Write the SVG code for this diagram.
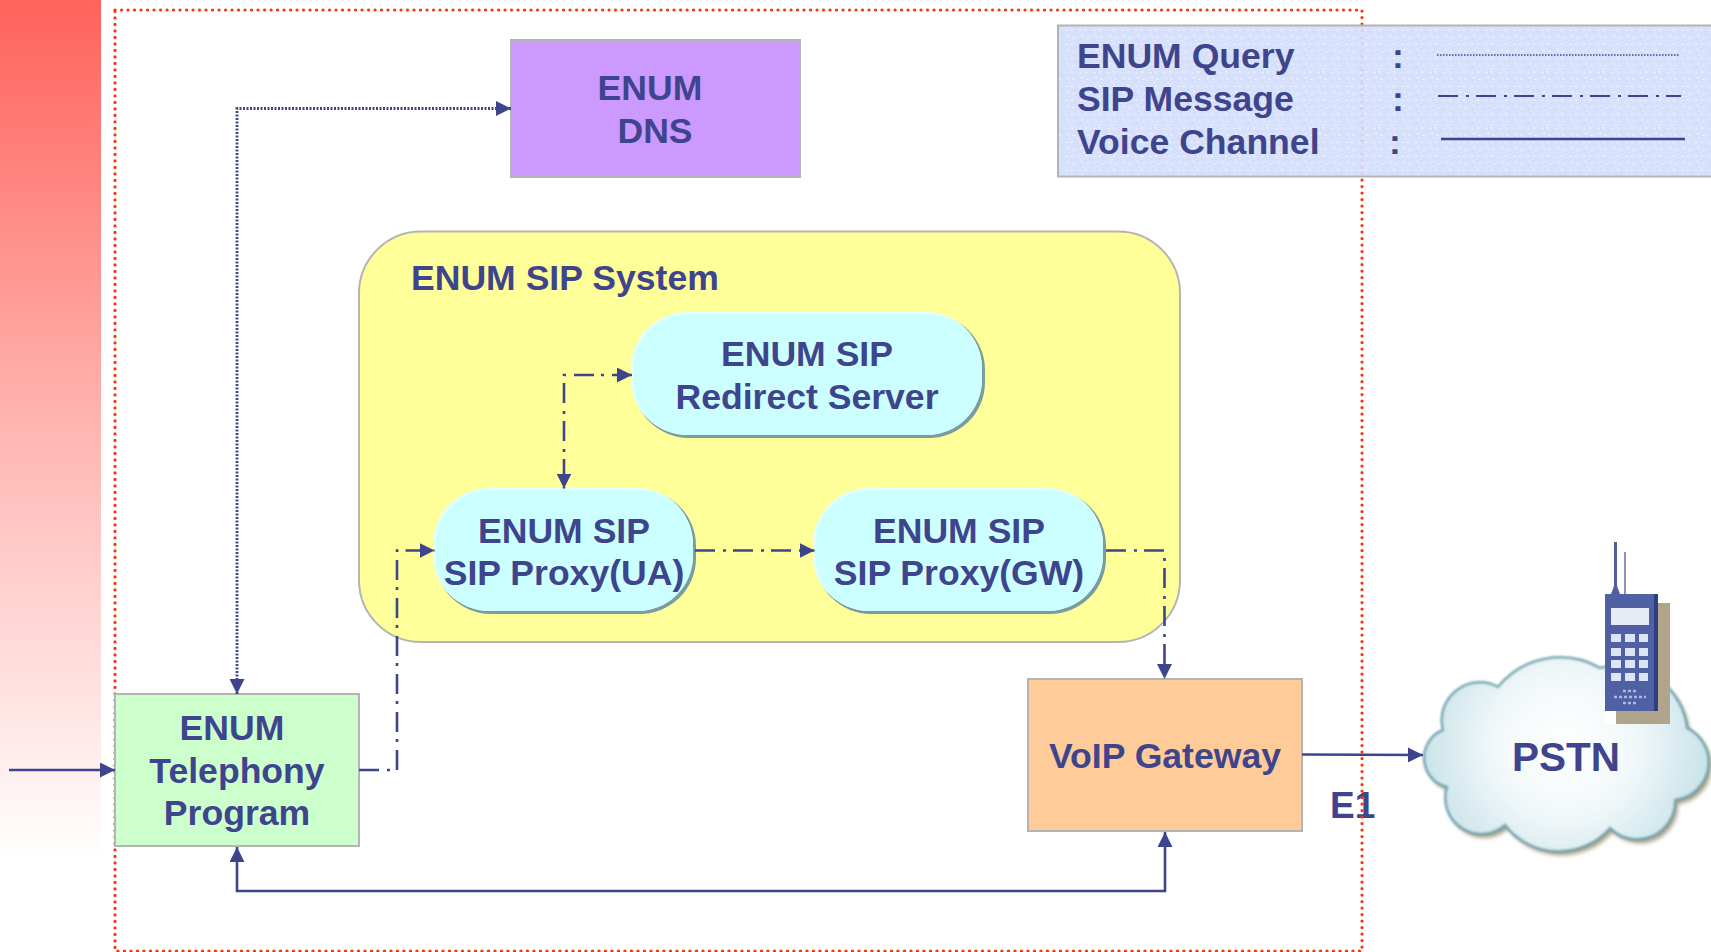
<svg xmlns="http://www.w3.org/2000/svg" width="1711" height="952" viewBox="0 0 1711 952">
<style>
.t{font-family:"Liberation Sans",Arial,sans-serif;font-weight:700;font-size:35.6px;fill:#3E458C}
.m{text-anchor:middle}
.box{stroke:#B4B4B4;stroke-width:2}
.c{fill:none;stroke:#3E458C;stroke-width:2.6}
.sip{stroke-dasharray:20 8 3 7}
.q{stroke-dasharray:2 1.5;stroke-width:2.8}
.pill{fill:#CCFFFF}
.pillsh{fill:#7A9C9E}
.pillhi{fill:#E4FFFF}
.key{fill:#DCE4F6}
</style>
<defs>
<linearGradient id="bar" x1="0" y1="0" x2="0" y2="1"><stop offset="0" stop-color="#FF625B"/><stop offset=".5" stop-color="#FFB6B2"/><stop offset="1" stop-color="#FFFFFF"/></linearGradient>
<pattern id="noise" width="14" height="14" patternUnits="userSpaceOnUse"><rect width="14" height="14" fill="#D3DEFC"/><rect x="1" y="2" width="3" height="1" fill="#E4EBFF"/><rect x="7" y="1" width="2" height="2" fill="#E8EEFF"/><rect x="11" y="5" width="2" height="1" fill="#C6D3F8"/><rect x="3" y="7" width="2" height="2" fill="#E6ECFF"/><rect x="8" y="9" width="3" height="1" fill="#E8EEFF"/><rect x="1" y="11" width="2" height="1" fill="#C8D5F8"/><rect x="5" y="12" width="2" height="1" fill="#E4EBFF"/></pattern>
<radialGradient id="cl" gradientUnits="userSpaceOnUse" cx="1565" cy="745" r="140"><stop offset="0" stop-color="#FFFFFF"/><stop offset=".5" stop-color="#F2F8FA"/><stop offset="1" stop-color="#CBE4EA"/></radialGradient>
<filter id="b1" x="-10%" y="-10%" width="120%" height="120%"><feGaussianBlur stdDeviation="2"/></filter>
<filter id="b2" x="-10%" y="-10%" width="120%" height="120%"><feGaussianBlur stdDeviation="1"/></filter>
<marker id="a" markerWidth="15" markerHeight="15" refX="15" refY="7.5" orient="auto-start-reverse" markerUnits="userSpaceOnUse"><path d="M0 0L15 7.5L0 15Z" fill="#3E458C"/></marker>
<path id="cloudp" d="M1443 730A38 38 0 0 1 1498 687A80 80 0 0 1 1600 668A70 70 0 0 1 1687 728A38 38 0 0 1 1675 800A38 38 0 0 1 1610 828A68 68 0 0 1 1505 825A36 36 0 0 1 1447 787A30 30 0 0 1 1443 730Z"/>
</defs>

<rect id="sidebar" x="0" y="0" width="101" height="860" fill="url(#bar)"/>
<text id="e1" class="t" x="1330" y="818" style="font-size:37px">E1</text>
<path id="frame" d="M115 10H1362V951H115Z" fill="none" stroke="#F5360F" stroke-width="3.2" stroke-dasharray="0.1 6.4" stroke-linecap="round"/>

<g id="legend">
<rect x="1058" y="25.500" width="660" height="151" fill="url(#noise)" fill-opacity=".9" class="box"/>
<text class="t" x="1077" y="67.500">ENUM Query</text>
<text class="t" x="1077" y="110.500">SIP Message</text>
<text class="t" x="1077" y="153.500">Voice Channel</text>
<text class="t" x="1392" y="68">:</text>
<text class="t" x="1392" y="111">:</text>
<text class="t" x="1389" y="154">:</text>
<path class="c" d="M1437 55H1679" stroke-dasharray="1.5 1.5" style="stroke-width:1.4"/>
<path class="c sip" d="M1438 96H1681" style="stroke-width:1.8"/>
<path class="c" d="M1441 139H1685"/>
</g>

<g id="dns">
<rect class="box" x="511" y="40" width="289" height="137" fill="#CC99FF"/>
<text class="t m" x="650" y="99.500">ENUM</text>
<text class="t m" x="655" y="142.500">DNS</text>
</g>

<g id="system">
<rect x="359" y="231.500" width="821" height="410.500" rx="62" fill="#FFFF99" stroke="#B4B4B4" stroke-width="2"/>
<text class="t" x="411" y="290">ENUM SIP System</text>
</g>

<g id="redirect">
<rect class="pillsh" x="633" y="314" width="352" height="124" rx="56"/>
<rect class="pillhi" x="631" y="312" width="351" height="123" rx="56"/>
<rect class="pill" x="633" y="314" width="349" height="121" rx="55"/>
<text class="t m" x="807" y="366">ENUM SIP</text>
<text class="t m" x="807" y="409">Redirect Server</text>
</g>
<g id="proxy-ua">
<rect class="pillsh" x="435" y="490" width="261" height="124" rx="56"/>
<rect class="pillhi" x="433" y="488" width="260" height="123" rx="56"/>
<rect class="pill" x="435" y="490" width="258" height="121" rx="55"/>
<text class="t m" x="564" y="542.500">ENUM SIP</text>
<text class="t m" x="564" y="584.500">SIP Proxy(UA)</text>
</g>
<g id="proxy-gw">
<rect class="pillsh" x="815" y="490" width="291" height="124" rx="56"/>
<rect class="pillhi" x="813" y="488" width="290" height="123" rx="56"/>
<rect class="pill" x="815" y="490" width="288" height="121" rx="55"/>
<text class="t m" x="959" y="542.500">ENUM SIP</text>
<text class="t m" x="959" y="584.500">SIP Proxy(GW)</text>
</g>

<g id="telephony">
<rect class="box" x="115" y="694" width="244" height="152" fill="#CCFFCC"/>
<text class="t m" x="232" y="740">ENUM</text>
<text class="t m" x="237" y="783">Telephony</text>
<text class="t m" x="237" y="825">Program</text>
</g>
<g id="gateway">
<rect class="box" x="1028" y="679" width="274" height="152" fill="#FFCC99"/>
<text class="t m" x="1165" y="768">VoIP Gateway</text>
</g>

<g id="pstn">
<use href="#cloudp" x="3" y="4" fill="#A89F88" filter="url(#b1)"/>
<use href="#cloudp" fill="url(#cl)" stroke="#6FA5B0" stroke-width="2.5" filter="url(#b2)"/>
<text class="t" x="1512" y="771" style="font-size:40.500px">PSTN</text>
</g>

<g id="phone">
<rect x="1605" y="542" width="65" height="182" fill="#FFFFFF"/>
<rect x="1616" y="603" width="54" height="121" fill="#B0A58A"/>
<path d="M1614 542h3v44l3 8h-9l3-8Z" fill="#4F5F9E"/>
<rect x="1624" y="552" width="2" height="42" fill="#8C93B8"/>
<rect x="1605" y="594" width="53" height="117" fill="#4F60A4"/>
<rect x="1654" y="594" width="4" height="117" fill="#2F3E80"/>
<rect x="1611" y="608" width="38" height="17" fill="#E6EBF6"/>
<g class="key">
<rect x="1611" y="634" width="10" height="8"/><rect x="1625" y="634" width="10" height="8"/><rect x="1639" y="634" width="9" height="8"/>
<rect x="1611" y="648" width="10" height="8"/><rect x="1625" y="648" width="10" height="8"/><rect x="1639" y="648" width="9" height="8"/>
<rect x="1611" y="660" width="10" height="8"/><rect x="1625" y="660" width="10" height="8"/><rect x="1639" y="660" width="9" height="8"/>
<rect x="1611" y="673" width="10" height="8"/><rect x="1625" y="673" width="10" height="8"/><rect x="1639" y="673" width="9" height="8"/>
</g>
<path d="M1623 691h14M1614 697h32M1623 703h14" stroke="#AEB8DC" stroke-width="2.500" stroke-dasharray="3 2" fill="none"/>
</g>

<g id="connectors">
<path class="c q" d="M237 694V108.500H511" marker-start="url(#a)" marker-end="url(#a)"/>
<path class="c sip" d="M632 375H564V488.500" marker-start="url(#a)" marker-end="url(#a)"/>
<path class="c sip" d="M359 770H397V550.500H434.500" marker-end="url(#a)"/>
<path class="c sip" d="M695 550.500H814.500" marker-end="url(#a)"/>
<path class="c sip" d="M1106 550.500H1164.500V679" marker-end="url(#a)"/>
<path class="c" d="M237 847V891H1165V832" marker-start="url(#a)" marker-end="url(#a)"/>
<path class="c" d="M9 770H115" marker-end="url(#a)"/>
<path class="c" d="M1302 754.500L1423 755" marker-end="url(#a)"/>
</g>
</svg>
